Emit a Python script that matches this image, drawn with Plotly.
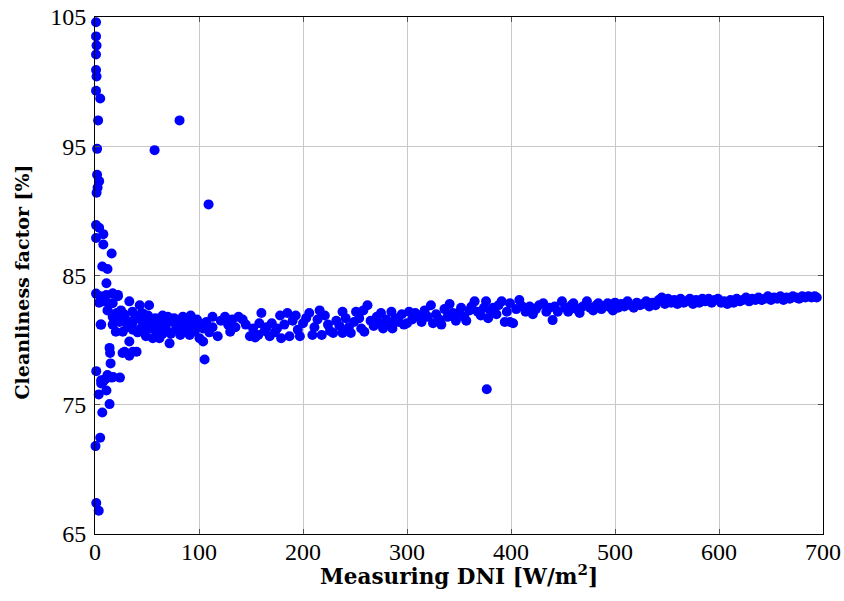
import plotly.graph_objects as go

# Funnel region near zero irradiance
dni_funnel = [1, 1, 1.5, 1, 1, 1.5, 1, 5, 3, 2, 2, 4, 2.5, 1.5, 1, 4, 8, 1, 8, 16,
              7, 12, 11, 1, 5, 17, 11, 22, 4, 14, 6, 18, 12, 20, 9,
              14, 14.5, 15, 1.2, 5.9, 5.9, 10, 16, 17.5, 24, 3.6, 11, 14, 7, 5,
              0.5, 1.2, 3.6, 8, 12, 5.4]
cf_funnel = [104.6, 103.5, 102.8, 102.1, 100.9, 100.4, 99.3, 98.7, 97.0, 94.8, 92.8, 92.3, 91.8, 91.4, 88.9, 88.7, 88.2, 87.9, 87.4, 86.7,
             85.7, 85.5, 84.4, 83.6, 83.4, 83.6, 83.5, 83.4, 82.9, 82.8, 81.2, 82.0, 82.3, 81.5, 83.0,
             79.4, 79.0, 78.2, 77.6, 76.9, 76.65, 77.0, 77.1, 77.15, 77.1, 75.8, 76.1, 75.05, 74.4, 72.45,
             71.8, 67.4, 66.8, 76.8, 77.3, 81.2]

# Low irradiance band (about 20-110 W/m2)
dni_low = [17, 22, 17, 33, 43, 52, 25, 36, 17, 17, 23.6, 30, 36, 43, 46, 54, 20, 26.7, 36.4, 49,
           55.6, 62, 70, 75, 84.5, 89, 68.5, 78, 84.5, 94, 100.5, 104, 60.4, 65, 71.7, 91, 100.5, 104, 33, 28.4,
           36.4, 40, 33, 26.5, 28, 31, 39, 41, 45, 48, 51, 57, 59, 62, 65, 67, 73, 80, 82, 87,
           92, 96, 98, 102, 107, 110, 21, 27, 34, 38, 44, 47, 53, 58, 64, 69, 76, 86, 93, 97]
cf_low = [83.6, 83.5, 82.85, 83.0, 82.7, 82.7, 82.3, 82.2, 81.8, 81.2, 81.4, 81.55, 81.3, 81.7, 81.4, 81.55, 80.65, 80.65, 80.8, 80.3,
          80.15, 80.15, 81.8, 81.4, 81.8, 81.55, 80.8, 80.9, 80.8, 81.2, 81.3, 80.9, 80.4, 80.5, 79.75, 80.4, 80.15, 79.9, 79.9, 79.1,
          79.1, 79.1, 78.8, 79.0, 82.0, 81.0, 81.9, 80.6, 82.1, 81.0, 81.9, 81.1, 80.6, 81.5, 81.9, 81.2, 80.5, 81.3, 80.4, 81.0,
          81.9, 80.7, 81.6, 81.0, 81.4, 80.6, 82.1, 81.7, 81.1, 81.6, 80.9, 82.0, 80.9, 81.7, 81.0, 81.3, 81.7, 81.4, 80.6, 81.3]

# Mid irradiance band (about 110-300 W/m2)
dni_mid = [113, 113, 118, 121, 125, 128, 130, 132, 135, 138, 142, 145, 149, 152, 154, 157, 158, 160, 163, 165,
           168, 170, 173, 175, 178, 179, 182, 185, 187, 190, 193, 195, 197, 200, 203, 206, 209, 211, 214, 216,
           218, 221, 224, 226, 229, 232, 235, 238, 238, 241, 244, 246, 249, 251, 254, 256, 258, 259, 262, 265,
           268, 271, 273, 275, 277, 280, 283, 285, 286, 289, 292, 295, 297]
cf_mid = [81.8, 81.0, 80.3, 81.5, 81.8, 81.2, 80.65, 81.6, 81.0, 81.8, 81.6, 81.2, 80.3, 80.9, 80.2, 80.4, 81.3, 82.1, 80.7, 81.0,
          80.3, 81.3, 80.6, 80.9, 81.9, 80.15, 81.2, 82.1, 80.3, 81.5, 81.9, 80.8, 80.3, 81.3, 81.7, 82.1, 80.4, 81.0, 81.6, 82.3,
          80.4, 81.9, 81.2, 80.7, 80.55, 81.5, 81.1, 82.2, 80.55, 81.7, 81.0, 80.55, 81.4, 82.2, 81.7, 80.9, 82.3, 80.65, 82.7, 81.5,
          81.1, 81.8, 81.3, 82.1, 80.9, 81.6, 81.3, 82.2, 80.9, 81.7, 81.4, 82.0, 81.2]

# Upper-mid irradiance band (about 300-500 W/m2)
dni_upper = [300, 302, 305, 308, 311, 314, 317, 320, 323, 325, 328, 331, 333, 336, 339, 341, 344, 347, 349, 352,
             355, 357, 360, 362, 365, 368, 371, 374, 376, 378, 380, 383, 386, 388, 391, 394, 396, 399, 399, 402,
             405, 408, 411, 414, 418, 421, 424, 427, 431, 434, 437, 440, 442, 445, 449, 452, 455, 458, 460, 463,
             466, 469, 473, 476, 479, 482, 484, 487, 490, 493, 496, 498]
cf_upper = [81.3, 82.2, 81.6, 82.1, 81.9, 81.4, 82.3, 81.8, 82.7, 81.3, 82.0, 81.6, 81.2, 82.4, 81.8, 82.8, 82.1, 81.5, 82.1, 82.5,
            81.8, 81.5, 82.3, 82.6, 83.0, 82.2, 81.9, 82.5, 83.0, 81.7, 82.3, 82.5, 82.0, 82.7, 83.0, 81.4, 82.2, 82.85, 81.4, 81.3,
            82.4, 83.1, 82.6, 82.2, 82.6, 82.0, 82.4, 82.7, 82.85, 82.2, 82.5, 81.55, 82.6, 82.2, 83.0, 82.5, 82.2, 82.7, 82.85, 82.4,
            82.1, 82.6, 83.0, 82.5, 82.3, 82.7, 82.85, 82.4, 82.6, 82.85, 82.5, 82.3]

# High irradiance band (about 500-695 W/m2)
dni_high = [500, 503, 506, 509, 512, 515, 518, 521, 524, 527, 530, 533, 536, 539, 542, 545, 548, 551, 554, 557,
            560, 563, 566, 569, 572, 575, 578, 581, 584, 587, 590, 593, 596, 599, 602, 605, 608, 611, 614, 617,
            620, 623, 626, 629, 632, 635, 638, 641, 644, 647, 650, 653, 656, 659, 662, 665, 668, 671, 674, 677,
            680, 683, 686, 689, 692, 694]
cf_high = [82.9, 82.5, 82.8, 82.6, 83.0, 82.7, 82.5, 82.9, 82.7, 82.8, 83.0, 82.6, 82.9, 82.7, 83.1, 83.3, 82.8, 83.2, 82.9, 83.1,
           82.8, 83.2, 82.9, 83.0, 83.2, 82.8, 83.1, 82.9, 83.2, 83.0, 83.2, 82.9, 83.1, 83.2, 82.9, 83.0, 82.8, 83.1, 82.9, 83.2,
           83.0, 83.1, 83.3, 83.0, 83.2, 83.1, 83.3, 83.1, 83.2, 83.4, 83.1, 83.3, 83.2, 83.4, 83.1, 83.3, 83.2, 83.4, 83.3, 83.2,
           83.4, 83.3, 83.4, 83.3, 83.4, 83.3]

# Isolated outliers
dni_out = [57.3, 81.3, 109.2, 376.7, 105.4]
cf_out = [94.7, 97.0, 90.5, 76.2, 78.5]

x_ticks = [0, 100, 200, 300, 400, 500, 600, 700]
y_ticks = [65, 75, 85, 95, 105]

x_title = "Measuring DNI [W/m<sup>2</sup>]"
y_title = "Cleanliness factor [%]"

dni = dni_funnel + dni_low + dni_mid + dni_upper + dni_high + dni_out
cf = cf_funnel + cf_low + cf_mid + cf_upper + cf_high + cf_out

tick_font = "Liberation Serif"
title_font = "DejaVu Serif"

fig = go.Figure()
fig.add_trace(go.Scatter(
    x=dni, y=cf, mode="markers",
    marker=dict(color="#0000ff", size=10, line=dict(width=0)),
    showlegend=False, cliponaxis=False,
))

axis_common = dict(
    showgrid=True, gridcolor="#c8c8c8", gridwidth=1,
    showline=True, linecolor="black", linewidth=1, mirror="ticks",
    ticks="inside", ticklen=5, tickcolor="#555555",
    zeroline=False, automargin=False,
    tickfont=dict(family=tick_font, size=24, color="black"),
)

fig.update_xaxes(range=[0, 700], tickvals=x_ticks, ticktext=[str(v) for v in x_ticks],
                 ticklabelstandoff=-4, **axis_common)
fig.update_yaxes(range=[65, 105], tickvals=y_ticks, ticktext=[str(v) for v in y_ticks],
                 ticklabelstandoff=3, **axis_common)

fig.add_annotation(text="<b>" + x_title + "</b>", xref="paper", yref="paper",
                   x=0.5, y=0, xanchor="center", yanchor="middle", yshift=-41,
                   showarrow=False, font=dict(family=title_font, size=21.5, color="black"))
fig.add_annotation(text="<b>" + y_title + "</b>", xref="paper", yref="paper",
                   x=0, y=0.5, xanchor="center", yanchor="middle", xshift=-74, yshift=-7,
                   textangle=-90,
                   showarrow=False, font=dict(family=title_font, size=19, color="black"))

fig.update_layout(
    width=844, height=601,
    margin=dict(l=95, r=21, t=17, b=67),
    plot_bgcolor="white", paper_bgcolor="white",
)

fig.write_html("out.html", config={"displayModeBar": False},
               post_script="document.body.style.margin='0';document.body.style.padding='0';")
